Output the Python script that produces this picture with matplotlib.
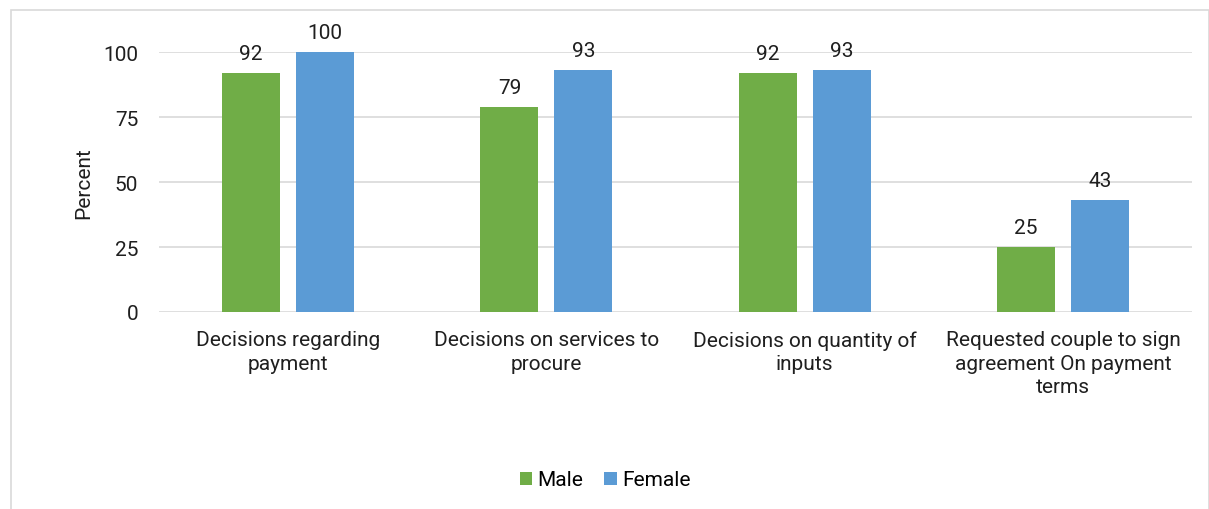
import matplotlib.pyplot as plt
from matplotlib.patches import Rectangle
import numpy as np

plt.rcParams['font.family'] = ['Roboto', 'DejaVu Sans']

categories = ["Decisions regarding\npayment",
              "Decisions on services to\nprocure",
              "Decisions on quantity of\ninputs",
              "Requested couple to sign\nagreement On payment\nterms"]
male = [92, 79, 92, 25]
female = [100, 93, 93, 43]
yticks = [0, 25, 50, 75, 100]

green = "#70AD47"
blue = "#5B9BD5"
text_color = "#1F1F1F"
fs = 15

W, H = 1209, 510
fig = plt.figure(figsize=(W / 100, H / 100), dpi=100)
fig.patches.append(Rectangle((11 / W, -0.01), (W - 11) / W, (H - 11) / H + 0.01,
                             transform=fig.transFigure, fill=False,
                             edgecolor="#D9D9D9", linewidth=1.2))

left, right = 159, 1192
top, bottom = 53, 313
ax = fig.add_axes([left / W, 1 - bottom / H, (right - left) / W, (bottom - top) / H])

x = np.arange(len(categories))
bw = 0.225
off = 0.143
b1 = ax.bar(x - off, male, bw, color=green, label="Male", zorder=3)
b2 = ax.bar(x + off, female, bw, color=blue, label="Female", zorder=3)

for bars, vals in ((b1, male), (b2, female)):
    for r, v in zip(bars, vals):
        ax.annotate(f"{v}", (r.get_x() + r.get_width() / 2, v),
                    xytext=(0, 7), textcoords="offset points",
                    ha="center", va="bottom", fontsize=fs, color=text_color)

ax.set_xlim(-0.5, len(categories) - 0.5)
ax.set_ylim(0, 100)
ax.set_yticks(yticks)
ax.set_yticklabels([str(t) for t in yticks], fontsize=fs, color=text_color)
ax.set_xticks(x)
ax.set_xticklabels(categories, fontsize=fs, color=text_color, linespacing=1.3)
ax.tick_params(axis="both", length=0)
ax.tick_params(axis="y", pad=15)
ax.tick_params(axis="x", pad=13)
ax.grid(axis="y", color="#D9D9D9", linewidth=1.2, zorder=0)
ax.set_axisbelow(True)
for s in ax.spines.values():
    s.set_visible(False)
ax.set_ylabel("Percent", fontsize=fs, color=text_color, labelpad=7)

fig.legend(handles=[b1, b2], labels=["Male", "Female"], loc="center",
           bbox_to_anchor=(605 / W, 1 - 481 / H), ncol=2, frameon=False,
           fontsize=fs, handlelength=0.6, handleheight=0.6, handletextpad=0.25,
           columnspacing=1.0)

fig.savefig("out.png", dpi=100)
